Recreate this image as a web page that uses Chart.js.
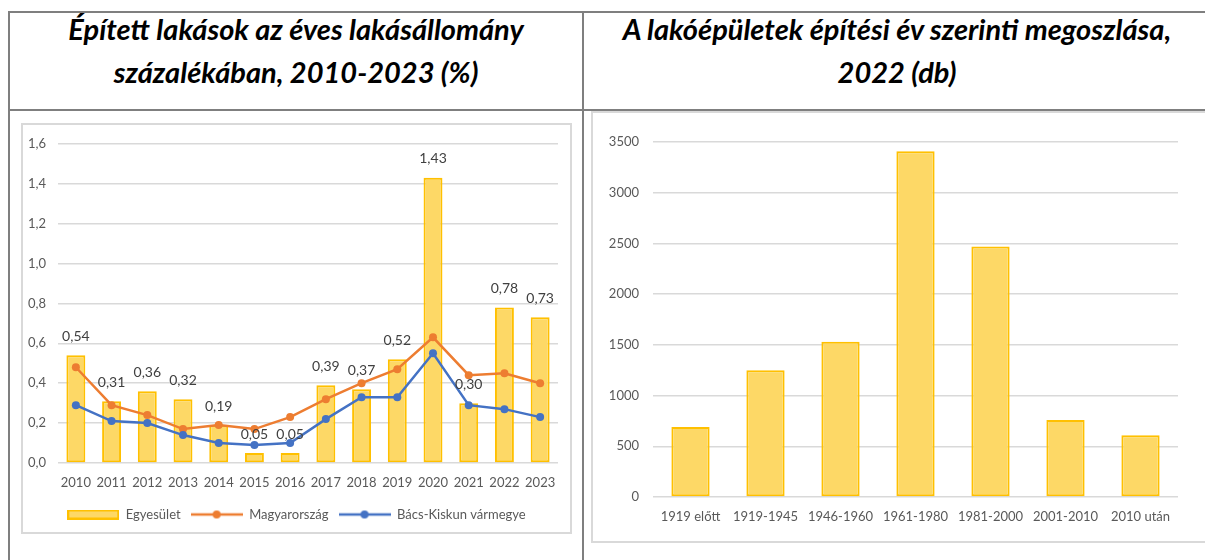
<!DOCTYPE html>
<html lang="hu">
<head>
<meta charset="utf-8">
<script src="https://cdn.jsdelivr.net/npm/chart.js@4"></script>
<style>
    html, body { margin: 0; padding: 0; background: #ffffff; }
    body { width: 1205px; height: 560px; position: relative; overflow: hidden; font-family: Lato, "Noto Sans", sans-serif; }
    .line { position: absolute; background: #7f7f7f; }
    .title { position: absolute; top: 7px; text-align: center; font-weight: bold; font-style: italic; font-size: 29px; line-height: 43px; color: #000000; }
    .box { position: absolute; border: 2px solid #d9d9d9; box-sizing: border-box; background: #ffffff; }
    canvas { position: absolute; }
</style>
</head>
<body>
<div class="line" style="left:8px; top:11px; width:2px; height:549px;"></div>
<div class="line" style="left:8px; top:11px; width:1197px; height:2px;"></div>
<div class="line" style="left:582px; top:11px; width:2px; height:549px;"></div>
<div class="line" style="left:8px; top:109px; width:1197px; height:2px;"></div>

<div class="title" style="left:10px; width:572px;">Épített lakások az éves lakásállomány<br>százalékában, 2010-2023 (%)</div>
<div class="title" style="left:584px; width:626px;">A lakóépületek építési év szerinti megoszlása,<br>2022 (db)</div>

<div class="box" style="left:21px; top:123px; width:551px; height:411px;"></div>
<div class="box" style="left:591px; top:111px; width:620px; height:432px;"></div>

<canvas id="lakasChart" width="548" height="408" style="left:22px; top:124px;"></canvas>
<canvas id="epuletChart" width="611" height="427" style="left:594px; top:113px;"></canvas>

<script>
// adatok
const evek = ['2010', '2011', '2012', '2013', '2014', '2015', '2016', '2017', '2018', '2019', '2020', '2021', '2022', '2023'];
const egyesulet = [0.54, 0.31, 0.36, 0.32, 0.19, 0.05, 0.05, 0.39, 0.37, 0.52, 1.43, 0.30, 0.78, 0.73];
const magyarorszag = [0.48, 0.29, 0.24, 0.17, 0.19, 0.17, 0.23, 0.32, 0.40, 0.47, 0.63, 0.44, 0.45, 0.40];
const bacsKiskun = [0.29, 0.21, 0.20, 0.14, 0.10, 0.09, 0.10, 0.22, 0.33, 0.33, 0.55, 0.29, 0.27, 0.23];

const epitesiEv = ['1919 előtt', '1919-1945', '1946-1960', '1961-1980', '1981-2000', '2001-2010', '2010 után'];
const epuletDb = [690, 1250, 1530, 3410, 2470, 760, 610];

const yTicksLakas = [0, 0.2, 0.4, 0.6, 0.8, 1.0, 1.2, 1.4, 1.6];
const yTicksEpulet = [0, 500, 1000, 1500, 2000, 2500, 3000, 3500];

const sarga = '#fdd866';
const sargaKeret = '#ffc000';
const narancs = '#ed7d31';
const kek = '#4472c4';
const racs = '#d9d9d9';
const felirat = '#595959';

Chart.defaults.font.family = 'Lato, "Noto Sans", sans-serif';
Chart.defaults.font.size = 13;
Chart.defaults.color = felirat;

const vesszo = v => v.toFixed(1).replace('.', ',');

// legend ikonok kis canvasra
function oszlopIkon() {
    const c = document.createElement('canvas');
    c.width = 52; c.height = 10;
    const g = c.getContext('2d');
    g.fillStyle = sarga;
    g.fillRect(1, 1, 50, 8);
    g.strokeStyle = sargaKeret;
    g.lineWidth = 2;
    g.strokeRect(1, 1, 50, 8);
    return c;
}

function vonalIkon(szin) {
    const c = document.createElement('canvas');
    c.width = 52; c.height = 10;
    const g = c.getContext('2d');
    g.strokeStyle = szin;
    g.lineWidth = 2.5;
    g.beginPath();
    g.moveTo(0, 5);
    g.lineTo(52, 5);
    g.stroke();
    g.fillStyle = szin;
    g.beginPath();
    g.arc(26, 5, 4, 0, Math.PI * 2);
    g.fill();
    return c;
}

// értékcímkék az oszlopok fölött
const cimkek = {
    id: 'cimkek',
    afterDatasetsDraw(chart) {
        const meta = chart.getDatasetMeta(0);
        const c = chart.ctx;
        c.save();
        c.font = '14px Lato, "Noto Sans", sans-serif';
        c.fillStyle = '#404040';
        c.textAlign = 'center';
        c.textBaseline = 'middle';
        meta.data.forEach((bar, i) => {
            c.fillText(egyesulet[i].toFixed(2).replace('.', ','), bar.x, bar.y - 19);
        });
        c.restore();
    }
};

// a jelmagyarázat kicsit jobbra van, mint a vászon közepe
const legendEltolas = {
    id: 'legendEltolas',
    afterLayout(chart) {
        chart.legend.left += 13;
    }
};

const ctx = document.getElementById('lakasChart').getContext('2d');

const lakasChart = new Chart(ctx, {
    type: 'bar',
    data: {
        labels: evek,
        datasets: [
            {
                type: 'bar',
                label: 'Egyesület',
                data: egyesulet,
                backgroundColor: sarga,
                borderColor: sargaKeret,
                borderWidth: 2,
                borderSkipped: false,
                barPercentage: 0.53,
                categoryPercentage: 1,
                order: 3
            },
            {
                type: 'line',
                label: 'Magyarország',
                data: magyarorszag,
                borderColor: narancs,
                backgroundColor: narancs,
                borderWidth: 2.5,
                pointRadius: 4,
                pointBorderWidth: 0,
                tension: 0,
                order: 2
            },
            {
                type: 'line',
                label: 'Bács-Kiskun vármegye',
                data: bacsKiskun,
                borderColor: kek,
                backgroundColor: kek,
                borderWidth: 2.5,
                pointRadius: 4,
                pointBorderWidth: 0,
                tension: 0,
                order: 1
            }
        ]
    },
    options: {
        responsive: false,
        animation: false,
        layout: { padding: { left: 0, right: 12, top: 19, bottom: 1 } },
        plugins: {
            tooltip: { enabled: false },
            legend: {
                position: 'bottom',
                labels: {
                    usePointStyle: true,
                    pointStyleWidth: 52,
                    padding: 10,
                    color: felirat,
                    font: { size: 13 },
                    generateLabels(chart) {
                        const ikonok = [oszlopIkon(), vonalIkon(narancs), vonalIkon(kek)];
                        return chart.data.datasets.map((ds, i) => ({
                            text: ds.label,
                            datasetIndex: i,
                            pointStyle: ikonok[i],
                            fontColor: felirat,
                            hidden: false,
                            lineWidth: 0
                        }));
                    }
                }
            }
        },
        scales: {
            x: {
                grid: { display: false, drawTicks: false },
                border: { display: false },
                ticks: { padding: 12, color: felirat, maxRotation: 0, minRotation: 0, autoSkip: false },
                afterFit(scale) { scale.height = 35; }
            },
            y: {
                min: 0,
                max: 1.6,
                afterBuildTicks(scale) { scale.ticks = yTicksLakas.map(v => ({ value: v })); },
                grid: { color: racs, lineWidth: 1.5, drawTicks: false },
                border: { display: false },
                ticks: { padding: 12, color: felirat, callback: v => vesszo(v) },
                afterFit(scale) { scale.width = 36; }
            }
        }
    },
    plugins: [cimkek, legendEltolas]
});

const ctx2 = document.getElementById('epuletChart').getContext('2d');

const epuletChart = new Chart(ctx2, {
    type: 'bar',
    data: {
        labels: epitesiEv,
        datasets: [{
            label: 'Lakóépületek',
            data: epuletDb,
            backgroundColor: sarga,
            borderColor: sargaKeret,
            borderWidth: 2,
            borderSkipped: false,
            barPercentage: 0.51,
            categoryPercentage: 1
        }]
    },
    options: {
        responsive: false,
        animation: false,
        layout: { padding: { left: 0, right: 27, top: 29, bottom: 16 } },
        plugins: {
            legend: { display: false },
            tooltip: { enabled: false }
        },
        scales: {
            x: {
                grid: { display: false, drawTicks: false },
                border: { display: false },
                ticks: { padding: 12, color: felirat, maxRotation: 0, autoSkip: false },
                afterFit(scale) { scale.height = 27; }
            },
            y: {
                min: 0,
                max: 3500,
                afterBuildTicks(scale) { scale.ticks = yTicksEpulet.map(v => ({ value: v })); },
                grid: { color: racs, lineWidth: 1.5, drawTicks: false },
                border: { display: false },
                ticks: { padding: 14, color: felirat, callback: v => String(v) },
                afterFit(scale) { scale.width = 59; }
            }
        }
    }
});
</script>
</body>
</html>
